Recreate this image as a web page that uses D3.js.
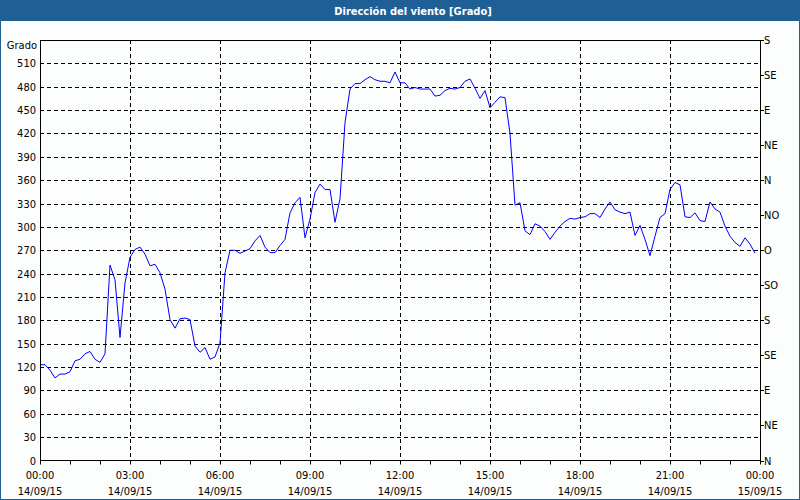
<!DOCTYPE html>
<html><head><meta charset="utf-8">
<script src="https://cdn.jsdelivr.net/npm/d3@7"></script>
<style>
html,body{margin:0;padding:0;background:#fcfdfd;}
svg{display:block;font-family:Tahoma,"DejaVu Sans Condensed","Liberation Sans",sans-serif;}
</style></head>
<body><svg id="c" width="800" height="500"></svg>
<script>
const title = "Dirección del viento [Grado]";
const yUnit = "Grado";
const startTime = "2015-09-14T00:00:00";
const stepMinutes = 10;
const values = [123,123,116,106,111,111,114,128,130,137,140,130,126,137,251,232,158,228,261,271,
274,265,250,252,241,220,181,170,182,183,181,147,139,145,130,133,151,241,270,270,
266,269,272,282,289,274,267,267,276,284,318,331,338,286,310,344,355,348,348,306,
336,434,477,484,484,489,493,489,487,487,485,499,485,485,477,479,477,477,477,468,
469,475,478,477,479,487,490,478,465,475,453,460,467,466,420,328,331,295,290,304,
301,294,284,293,301,307,311,310,312,313,317,317,312,323,332,322,319,317,319,289,
302,284,263,288,312,317,348,357,354,313,312,318,308,307,332,323,319,301,288,280,
275,286,278,266];
const yTicks = [0,30,60,90,120,150,180,210,240,270,300,330,360,390,420,450,480,510];
const dirTicks = [0,45,90,135,180,225,270,315,360,405,450,495,540];
const dirLabels = ["N","NE","E","SE","S","SO","O","NO","N","NE","E","SE","S"];
const yMax = 540;

const svg = d3.select("#c");
const W = 800, H = 500;
const m = {l:40, r:760, t:40, b:460.5};
const t0 = new Date(startTime);
const t1 = d3.timeDay.offset(t0, 1);
const data = values.map((v,i)=>({t:d3.timeMinute.offset(t0, i*stepMinutes), v}));

const x = d3.scaleTime().domain([t0,t1]).range([m.l, m.r]);
const y = d3.scaleLinear().domain([0,yMax]).range([m.b, m.t]);

// frame + title bar
svg.append("rect").attr("x",0.5).attr("y",0.5).attr("width",W-1).attr("height",H-1)
  .attr("fill","#fcfdfd").attr("stroke","#1f5f95").attr("stroke-width",1);
svg.append("rect").attr("x",0).attr("y",0).attr("width",W).attr("height",21).attr("fill","#1f5f95");
svg.append("text").attr("x",413).attr("y",14.5).attr("text-anchor","middle")
  .attr("fill","#fff").attr("font-size","11px").attr("font-weight","bold").text(title);

// gridlines
const g = svg.append("g");
g.selectAll(".hg").data(yTicks.filter(d=>d>0)).join("line")
  .attr("x1",m.l).attr("x2",m.r).attr("y1",d=>Math.round(y(d))+0.5).attr("y2",d=>Math.round(y(d))+0.5)
  .attr("stroke","#000").attr("stroke-dasharray","4,3");
const majorX = d3.timeHour.every(3).range(t0, d3.timeMinute.offset(t1,1));
g.selectAll(".vg").data(majorX.filter(d=>+d>+t0 && +d<+t1)).join("line")
  .attr("y1",m.t).attr("y2",m.b).attr("x1",d=>Math.round(x(d))+0.5).attr("x2",d=>Math.round(x(d))+0.5)
  .attr("stroke","#000").attr("stroke-dasharray","4,3");

// line
svg.append("path").datum(data)
  .attr("d", d3.line().x(d=>x(d.t)).y(d=>y(d.v)))
  .attr("fill","none").attr("stroke","#0000ff").attr("stroke-width",1);

// plot box
svg.append("rect").attr("x",m.l+0.5).attr("y",m.t+0.5).attr("width",m.r-m.l).attr("height",m.b-m.t-0.5)
  .attr("fill","none").attr("stroke","#000").attr("stroke-width",1);

// left axis labels
const fs = "11px";
svg.append("g").selectAll("text").data(yTicks).join("text")
  .attr("x",36).attr("y",d=>y(d)+4).attr("text-anchor","end").attr("font-size",fs).attr("fill","#000")
  .text(d=>d);
svg.append("text").attr("x",37).attr("y",49).attr("text-anchor","end").attr("font-size",fs).text(yUnit);

// right axis
const ry = d3.scaleLinear().domain([0,yMax]).range([m.b, m.t]);
const rAxis = svg.append("g");
rAxis.selectAll("line").data(dirTicks).join("line")
  .attr("x1",m.r).attr("x2",m.r+4).attr("y1",d=>Math.round(ry(d))+0.5).attr("y2",d=>Math.round(ry(d))+0.5)
  .attr("stroke","#000");
rAxis.selectAll("text").data(dirTicks).join("text")
  .attr("x",m.r+4).attr("y",d=>ry(d)+4).attr("font-size",fs).text((d,i)=>dirLabels[i]);

// bottom axis ticks (hourly minor) + labels
const hours = d3.timeHour.every(1).range(t0, d3.timeMinute.offset(t1,1));
svg.append("g").selectAll("line").data(hours).join("line")
  .attr("x1",d=>Math.round(x(d))+0.5).attr("x2",d=>Math.round(x(d))+0.5)
  .attr("y1",m.b).attr("y2",m.b+4).attr("stroke","#000");
const fmtT = d3.timeFormat("%H:%M"), fmtD = d3.timeFormat("%d/%m/%y");
const lab = svg.append("g").selectAll("text").data(majorX).join("text")
  .attr("text-anchor","middle").attr("font-size",fs);
lab.append("tspan").attr("x",d=>x(d)).attr("y",479).text(fmtT);
lab.append("tspan").attr("x",d=>x(d)).attr("y",495).text(fmtD);
</script></body></html>
